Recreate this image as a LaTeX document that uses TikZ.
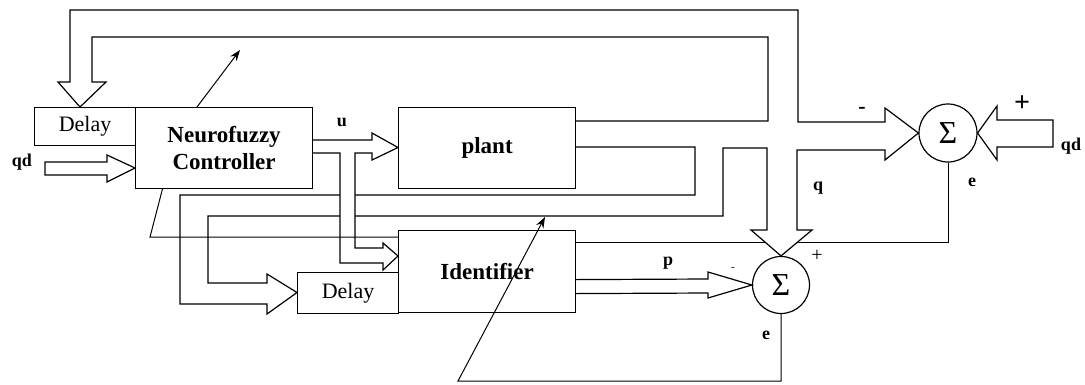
\documentclass[tikz,border=0pt]{standalone}
\usepackage{fontspec}
\setmainfont{Liberation Serif}
\usetikzlibrary{arrows.meta}
\begin{document}
\begin{tikzpicture}[x=1pt,y=-1pt,line width=1.2pt,line join=miter,
  box/.style={draw,fill=white,inner sep=0pt,anchor=north west,align=center},
  sumnode/.style={draw,fill=white,circle,inner sep=0pt,minimum size=#1,font=\fontsize{32}{32}\selectfont},
  lbl/.style={inner sep=0pt,font=\fontsize{18}{18}\selectfont\bfseries},
  adapt/.style={-{Stealth[length=11pt,width=8pt]},line width=1pt}]
\useasboundingbox (0,0) rectangle (1085,384);
% sum nodes first (needed as anchors)
\node[sumnode=58pt] (s1) at (948,133) {Σ};
\node[sumnode=57pt] (s2) at (781,285) {Σ};
% error line from sum 1 (passes under the arrowhead into sum 2)
\draw[line width=1pt] (s1.south) -- (948,242.5) -- (575,242.5);
\fill[white] (751,230) -- (812,230) -- (s2.north) -- cycle;
% q manifold (hollow conduit from plant)
\draw (575,121) -- (768,121) -- (768,37) -- (92,37) -- (92,82) -- (106,82)
  -- (80,107) -- (58,82) -- (70,82) -- (70,10) -- (798,10) -- (798,122) -- (885,122)
  -- (885,108) -- (s1.west) -- (885,160) -- (885,150) -- (797,150) -- (797,230) -- (812,230)
  -- (s2.north) -- (751,230) -- (767,230) -- (767,148) -- (723,148) -- (723,216) -- (208,216)
  -- (208,283) -- (267,283) -- (267,274) -- (297,292.5) -- (267,314) -- (267,304) -- (180,304)
  -- (180,195) -- (695,195) -- (695,147) -- (575,147);
% u manifold (filled white so crossing lines are hidden inside it)
\draw[fill=white] (312,140) -- (372,140) -- (372,133) -- (398,147.5) -- (372,160)
  -- (372,153) -- (355,153) -- (355,248) -- (383,248) -- (383,243) -- (398,256)
  -- (383,270) -- (383,263) -- (340,263) -- (340,153) -- (312,153);
% adaptation line (controller), its middle part hidden behind the controller box
\coordinate (a1) at (240,50);
\draw[adapt] (398,237) -- (150,237) -- (163,187) -- (197,107) -- (a1);
% boxes
\node[box,minimum width=101pt,minimum height=38pt] (dly1) at (34,107) {\fontsize{22}{22}\selectfont Delay};
\node[box,minimum width=177pt,minimum height=81pt,font=\fontsize{23}{27}\selectfont\bfseries] (ctrl) at (135,107) {Neurofuzzy\\Controller};
\node[box,minimum width=177pt,minimum height=81pt,font=\fontsize{23}{23}\selectfont\bfseries] (plant) at (398,107) {plant};
\node[box,minimum width=177pt,minimum height=82pt,font=\fontsize{23}{23}\selectfont\bfseries] (ident) at (398,230) {Identifier};
\node[box,minimum width=101pt,minimum height=41pt] (dly2) at (297,272) {\fontsize{22}{22}\selectfont Delay};
% qd into controller
\draw (45,162) -- (107,162) -- (107,155) -- (ctrl.west |- 0,168) -- (107,182) -- (107,175) -- (45,175) -- cycle;
% qd into sum 1
\draw (1053,120) -- (997,120) -- (997,106) -- (s1.east) -- (997,160) -- (997,147) -- (1053,147) -- cycle;
% p into sum 2
\draw ([yshift=-8pt]ident.east) -- (708,279) -- (708,272) -- (s2.west) -- (708,298) -- (708,293) -- ([yshift=-22pt]ident.east);
% error line from sum 2 to identifier adaptation
\coordinate (a2) at (545,217);
\draw[adapt] (s2.south) -- (781,381) -- (458,381) -- (a2);
% labels
\node[lbl] (lu) at (342,122) {u};
\node[lbl] (lqd1) at (22,162) {qd};
\node[lbl] (lqd2) at (1071,146) {qd};
\node[lbl,font=\fontsize{22}{22}\selectfont\bfseries] (lm) at (862,110) {-};
\node[lbl,font=\fontsize{28}{28}\selectfont\bfseries] (lp1) at (1022,104) {+};
\node[lbl] (lq) at (818,188) {q};
\node[lbl] (le1) at (972,182) {e};
\node[lbl] (lp) at (668,263) {p};
\node[inner sep=0pt,font=\fontsize{20}{20}\selectfont] (lp2) at (817,256) {+};
\node[lbl] (le2) at (766,335) {e};
\node[inner sep=0pt,font=\fontsize{11}{11}\selectfont] (lm2) at (733,269) {-};
\end{tikzpicture}
\end{document}
